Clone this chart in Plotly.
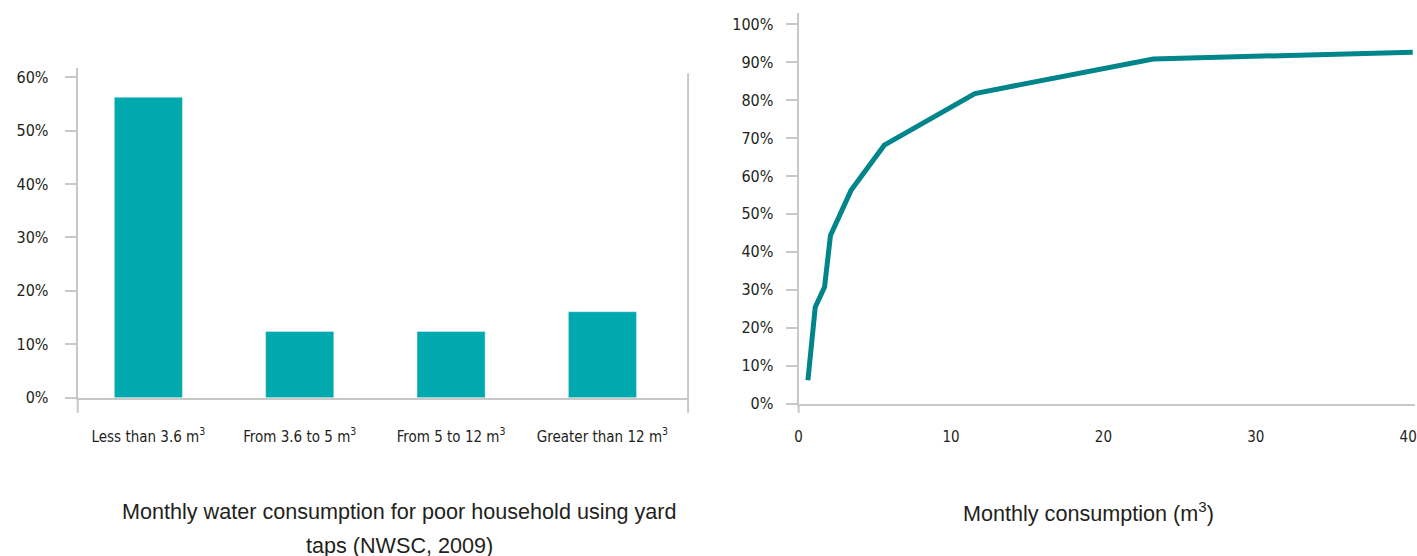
import plotly.graph_objects as go

W, H_REF = 1417, 556
H = 567  # capture appears ~567px tall, scaled to 556

# ---- data ----
categories = ["Less than 3.6 m<sup>3</sup>", "From 3.6 to 5 m<sup>3</sup>",
              "From 5 to 12 m<sup>3</sup>", "Greater than 12 m<sup>3</sup>"]
shares = [0.5625, 0.124, 0.124, 0.161]

consumption = [0.61, 1.09, 1.70, 2.09, 3.44, 5.62, 11.57, 23.27, 40.3]
cumulative = [0.062, 0.254, 0.307, 0.443, 0.562, 0.681, 0.817, 0.908, 0.926]

left_title = ["Monthly water consumption for poor household using yard", "taps (NWSC, 2009)"]
right_title = "Monthly consumption (m<sup>3</sup>)"

BAR = "#00A9AE"
LINE = "#00868A"
GRAY = "#C8C8C8"
TICKFAMILY = "Liberation Sans Narrow, DejaVu Sans Condensed, Arial Narrow, sans-serif"
YTICKFONT = dict(family=TICKFAMILY, size=16, color="#231F20")
XTICKFONT = dict(family=TICKFAMILY, size=15, color="#231F20")
TITLEFONT = dict(family="Liberation Sans, Arial, Helvetica, sans-serif", size=21.6, color="#231F20")

def px_x(p):
    return p / W

def px_y(p):
    return 1 - p / H_REF

fig = go.Figure()
fig.add_trace(go.Bar(x=categories, y=shares, marker_color=BAR, width=0.45,
                     xaxis="x", yaxis="y", showlegend=False))
fig.add_trace(go.Scatter(x=consumption, y=cumulative, mode="lines",
                         line=dict(color=LINE, width=5), xaxis="x2", yaxis="y2",
                         showlegend=False))

axis_common = dict(showgrid=False, zeroline=False, showline=True, linecolor=GRAY,
                   linewidth=2)

LX0, LX1 = 74, 687
RX0 = 798

fig.update_layout(
    width=W, height=H,
    margin=dict(l=0, r=0, t=0, b=0),
    paper_bgcolor="white", plot_bgcolor="white",
    xaxis=dict(domain=[px_x(LX0), px_x(LX1)], range=[-0.467, 3.566], type="category",
               ticks="", ticklabelstandoff=24, anchor="y", tickfont=XTICKFONT, **axis_common),
    yaxis=dict(domain=[px_y(397), px_y(68)], range=[0, 0.617], dtick=0.1, tickformat=".0%",
               ticks="outside", ticklen=11, tickwidth=1.5, tickcolor=GRAY,
               ticklabelstandoff=13, anchor="x", tickfont=YTICKFONT, **axis_common),
    xaxis2=dict(domain=[px_x(RX0), 1.0], range=[0, 40.45], dtick=10, ticks="",
                ticklabelstandoff=18, anchor="y2", tickfont=XTICKFONT,
                ticklabeloverflow="allow", **axis_common),
    yaxis2=dict(domain=[px_y(403), px_y(13)], range=[0, 1.029], dtick=0.1, tickformat=".0%",
                ticks="outside", ticklen=11, tickwidth=1.5, tickcolor=GRAY,
                ticklabelstandoff=9, anchor="x2", tickfont=YTICKFONT, **axis_common),
)

shapes = []
# left chart: downward extensions at both ends and right border line
shapes.append(dict(type="line", xref="paper", yref="paper", x0=px_x(LX0), x1=px_x(LX0),
                   y0=px_y(397), y1=px_y(412), line=dict(color=GRAY, width=2)))
shapes.append(dict(type="line", xref="paper", yref="paper", x0=px_x(LX1), x1=px_x(LX1),
                   y0=px_y(73), y1=px_y(412), line=dict(color=GRAY, width=2)))
# right chart: y-axis extension below x-axis
shapes.append(dict(type="line", xref="paper", yref="paper", x0=px_x(RX0), x1=px_x(RX0),
                   y0=px_y(403), y1=px_y(412), line=dict(color=GRAY, width=2)))
fig.update_layout(shapes=shapes)

ann = []
ann.append(dict(text=left_title[0], x=px_x(397), y=px_y(511), xref="paper", yref="paper",
                showarrow=False, font=TITLEFONT, xanchor="center", yanchor="middle"))
ann.append(dict(text=left_title[1], x=px_x(397), y=px_y(545), xref="paper", yref="paper",
                showarrow=False, font=TITLEFONT, xanchor="center", yanchor="middle"))
ann.append(dict(text=right_title, x=px_x(1089), y=px_y(511), xref="paper", yref="paper",
                showarrow=False, font=TITLEFONT, xanchor="center", yanchor="middle"))
fig.update_layout(annotations=ann)

fig.write_html("out.html", config={"displayModeBar": False},
               post_script="document.body.style.margin='0';document.body.style.overflow='hidden';")
